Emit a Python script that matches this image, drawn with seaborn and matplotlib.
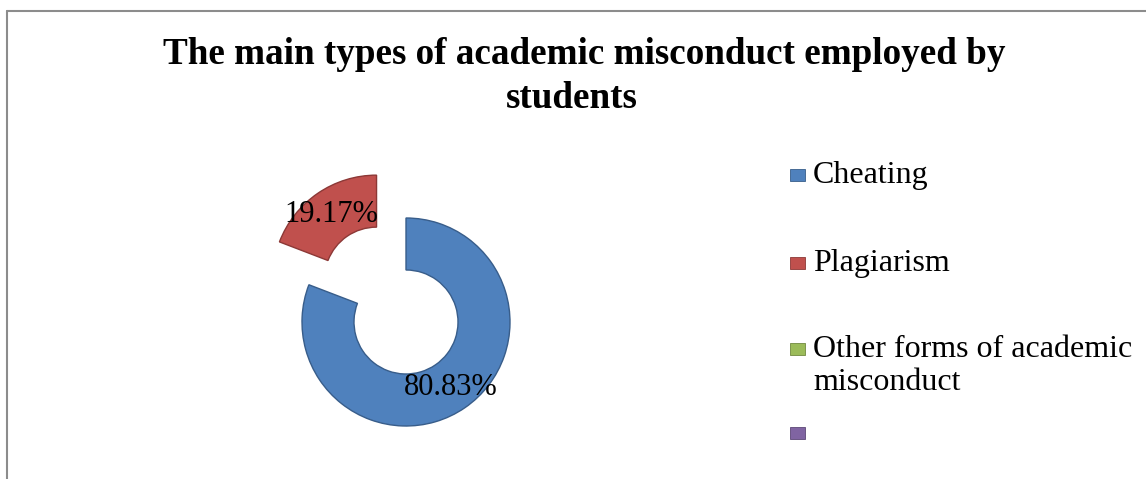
import matplotlib
matplotlib.use("Agg")
import matplotlib.pyplot as plt
import seaborn as sns
from matplotlib.lines import Line2D
from matplotlib.patches import Rectangle

# data
categories = ["Cheating", "Plagiarism", "Other forms of academic\nmisconduct", ""]
shares = [80.83, 19.17, 0.0, 0.0]
explode_by_cat = [0.0, 0.5, 0.0, 0.0]
title_lines = ["The main types of academic misconduct employed by", "students"]

sns.set_style("white")
plt.rcParams["font.family"] = ["Liberation Serif", "DejaVu Serif"]
plt.rcParams["text.color"] = "black"

palette = sns.color_palette(["#4F81BD", "#C0504D", "#9BBB59", "#8064A2"])
edges = ["#385D8A", "#8C3836", "#71893F", "#5C4776"]

W, H = 1146, 479
fig = plt.figure(figsize=(W / 100, H / 100), dpi=100)
fig.patch.set_facecolor("white")

# chart frame (only top and left visible in the crop)
fig.add_artist(Line2D([7 / W, 1], [1 - 11 / H, 1 - 11 / H], color="#8c8c8c", lw=1.5))
fig.add_artist(Line2D([7 / W, 7 / W], [1 - 11 / H, 0], color="#8c8c8c", lw=1.5))

# title
fig.text(584 / W, 1 - 64 / H, title_lines[0], ha="center", va="baseline",
         fontsize=26.7, fontweight="bold", color="black")
fig.text(572 / W, 1 - 108 / H, title_lines[1], ha="center", va="baseline",
         fontsize=26.7, fontweight="bold", color="black")

# donut: center (406, 322) px, outer radius 104 px
r_px = 104
lim = 1.6
side = 2 * lim * r_px
cx, cy = 406, H - 322
ax = fig.add_axes([(cx - side / 2) / W, (cy - side / 2) / H, side / W, side / H])

idx = [i for i, v in enumerate(shares) if v > 0]
wedges, texts, autotexts = ax.pie(
    [shares[i] for i in idx],
    colors=[palette[i] for i in idx],
    explode=[explode_by_cat[i] for i in idx],
    startangle=90,
    counterclock=False,
    autopct="%.2f%%",
    pctdistance=0.76,
    wedgeprops=dict(width=0.5, linewidth=1.0),
    textprops=dict(fontsize=22, color="black"),
)
for w, i in zip(wedges, idx):
    w.set_edgecolor(edges[i])
ax.set_xlim(-lim, lim)
ax.set_ylim(-lim, lim)
ax.set_aspect("equal")
ax.axis("off")

# legend, laid out like the Excel original
entry_baselines = [183, 271, 357, 441]
line_step = 33
for i, (lab, base) in enumerate(zip(categories, entry_baselines)):
    fig.add_artist(Rectangle(((790) / W, (H - base + 2) / H), 15 / W, 12 / H,
                             transform=fig.transFigure, facecolor=palette[i],
                             edgecolor=edges[i], lw=0.6))
    for k, part in enumerate(lab.split("\n")):
        fig.text(813 / W, 1 - (base + k * line_step) / H, part,
                 ha="left", va="baseline", fontsize=23, color="black")

fig.savefig("out.png", dpi=100)
